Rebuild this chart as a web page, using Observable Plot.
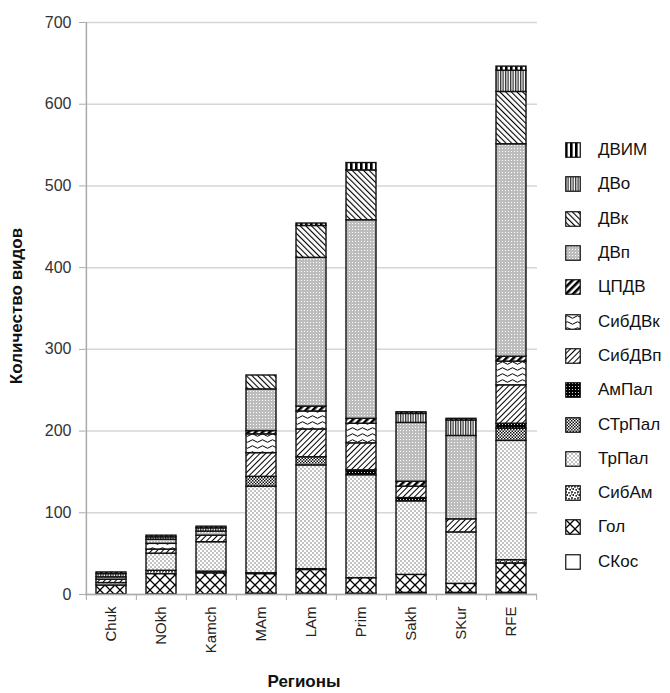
<!DOCTYPE html>
<html><head><meta charset="utf-8">
<script src="https://cdn.jsdelivr.net/npm/d3@7"></script>
<script src="https://cdn.jsdelivr.net/npm/@observablehq/plot@0.6"></script>
<style>
body{margin:0;background:#fff;font-family:"Liberation Sans",Arial,sans-serif;}
#wrap{position:relative;width:670px;height:693px;overflow:hidden;}
#ytitle{position:absolute;left:17px;top:306px;transform:translate(-50%,-50%) rotate(-90deg);font-weight:bold;font-size:17px;white-space:nowrap;color:#111;}
#xtitle{position:absolute;left:304px;top:682px;transform:translate(-50%,-50%);font-weight:bold;font-size:17px;color:#111;}
#legend{position:absolute;left:565px;top:133px;}
.lg{display:flex;align-items:center;height:34.3px;font-size:17px;color:#111;white-space:nowrap;}
.lg svg{margin-right:17px;flex:none;}
</style></head><body>
<svg width="0" height="0" style="position:absolute">
<defs>
<pattern id="p0" width="4" height="4" patternUnits="userSpaceOnUse"><rect width="4" height="4" fill="#fff"/></pattern>
<pattern id="p1" width="10" height="10" patternUnits="userSpaceOnUse"><rect width="10" height="10" fill="#fff"/><path d="M-1 -1L11 11M11 -1L-1 11" stroke="#000" stroke-width="1.3"/></pattern>
<pattern id="p2" width="6" height="6" patternUnits="userSpaceOnUse"><rect width="6" height="6" fill="#fff"/><circle cx="1" cy="1" r="0.9" fill="#000"/><circle cx="4" cy="1.8" r="0.9" fill="#000"/><circle cx="2.2" cy="4" r="0.9" fill="#000"/><circle cx="5.2" cy="4.8" r="0.9" fill="#000"/><circle cx="0.2" cy="3" r="0.7" fill="#000"/></pattern>
<pattern id="p3" width="4" height="4" patternUnits="userSpaceOnUse"><rect width="4" height="4" fill="#fff"/><circle cx="1" cy="1" r="0.65" fill="#555"/><circle cx="3" cy="3" r="0.65" fill="#555"/></pattern>
<pattern id="p4" width="3" height="3" patternUnits="userSpaceOnUse"><rect width="3" height="3" fill="#fff"/><rect width="1.5" height="1.5" fill="#111"/><rect x="1.5" y="1.5" width="1.5" height="1.5" fill="#111"/></pattern>
<pattern id="p5" width="3" height="3" patternUnits="userSpaceOnUse"><rect width="3" height="3" fill="#000"/><circle cx="1.5" cy="1.5" r="0.6" fill="#fff"/></pattern>
<pattern id="p6" width="4" height="4" patternUnits="userSpaceOnUse" patternTransform="rotate(45)"><rect width="4" height="4" fill="#fff"/><rect width="1" height="4" fill="#000"/></pattern>
<pattern id="p7" width="10" height="6" patternUnits="userSpaceOnUse"><rect width="10" height="6" fill="#fff"/><path d="M0 3 Q2.5 0.5 5 3 T10 3" stroke="#000" stroke-width="1" fill="none"/></pattern>
<pattern id="p8" width="5" height="5" patternUnits="userSpaceOnUse" patternTransform="rotate(45)"><rect width="5" height="5" fill="#fff"/><rect width="2.6" height="5" fill="#000"/></pattern>
<pattern id="p9" width="3" height="3" patternUnits="userSpaceOnUse"><rect width="3" height="3" fill="#bdbdbd"/><rect x="1" y="1" width="1" height="1" fill="#fff"/></pattern>
<pattern id="p10" width="4" height="4" patternUnits="userSpaceOnUse" patternTransform="rotate(-45)"><rect width="4" height="4" fill="#fff"/><rect width="1.1" height="4" fill="#000"/></pattern>
<pattern id="p11" width="2.5" height="2.5" patternUnits="userSpaceOnUse"><rect width="2.5" height="2.5" fill="#fff"/><rect width="1.3" height="2.5" fill="#333"/></pattern>
<pattern id="p12" width="5" height="5" patternUnits="userSpaceOnUse"><rect width="5" height="5" fill="#fff"/><rect width="2.6" height="5" fill="#000"/></pattern>
</defs>
</svg>
<div id="wrap">
  <div id="ytitle">Количество видов</div>
  <div id="xtitle">Регионы</div>
  <div id="legend"></div>
</div>
<script>
// Categories (x axis)
const regions = ["Chuk","NOkh","Kamch","MAm","LAm","Prim","Sakh","SKur","RFE"];
// Stack groups, bottom to top
const groups = ["СКос","Гол","СибАм","ТрПал","СТрПал","АмПал","СибДВп","СибДВк","ЦПДВ","ДВп","ДВк","ДВо","ДВИМ"];
// Series values, one value per region (in region order)
const sKos   = [0, 0, 0, 1, 1, 1, 2, 2, 2];
const gol    = [11, 25, 26, 24, 29, 19, 22, 11, 36];
const sibAm  = [0, 4, 2, 1, 1, 0, 0, 0, 4];
const trPal  = [3, 21, 36, 106, 127, 126, 90, 63, 146];
const sTrPal = [0, 0, 0, 12, 10, 0, 0, 0, 15];
const amPal  = [0, 0, 0, 0, 0, 6, 4, 0, 6];
const sibDVp = [4, 5, 8, 29, 34, 33, 14, 16, 47];
const sibDVk = [0, 7, 0, 23, 22, 24, 0, 0, 29];
const cPDV   = [0, 0, 0, 4, 6, 6, 6, 0, 6];
const dVp    = [3, 5, 5, 51, 182, 243, 72, 102, 260];
const dVk    = [0, 0, 0, 17, 39, 61, 0, 0, 64];
const dVo    = [4, 3, 4, 0, 0, 0, 11, 19, 26];
const dVIM   = [2, 2, 2, 0, 3, 9, 2, 2, 5];
// Y axis tick values
const yTicks = [0, 100, 200, 300, 400, 500, 600, 700];

const series = [sKos, gol, sibAm, trPal, sTrPal, amPal, sibDVp, sibDVk, cPDV, dVp, dVk, dVo, dVIM];
const fills = groups.map((g, j) => `url(#p${j})`);

const rows = regions.flatMap((r, i) => groups.map((g, j) => ({region: r, group: g, value: series[j][i]})))
  .filter(d => d.value > 0);

const W = 670, H = 693, mL = 85, mR = 133, mT = 22, mB = 99;
const step = (W - mL - mR) / regions.length;

const chart = Plot.plot({
  width: W, height: H,
  marginLeft: mL, marginRight: mR, marginTop: mT, marginBottom: mB,
  style: {fontFamily: "'Liberation Sans', Arial, sans-serif", fontSize: "16px", color: "#222", background: "transparent"},
  x: {domain: regions, paddingInner: 0.4, paddingOuter: 0.2, label: null},
  y: {domain: [0, 700], label: null},
  color: {domain: groups, range: fills},
  marks: [
    Plot.gridY(yTicks, {stroke: "#d6d6d6", strokeOpacity: 1, strokeWidth: 1.5}),
    Plot.ruleX([regions[0]], {dx: -step / 2, y1: 0, y2: 700, stroke: "#aaa", strokeWidth: 1.5}),
    Plot.axisY(yTicks, {tickSize: 6, tickPadding: 8, stroke: "#aaa", fill: "#333", label: null, fontSize: 16}),
    Plot.barY(rows, {x: "region", y: "value", fill: "group", stroke: "#111", strokeWidth: 1.4, order: groups}),
    Plot.ruleY([0], {stroke: "#aaa", strokeWidth: 1.5}),
    Plot.axisX({tickSize: 6, tickFormat: () => "", dx: -step / 2, stroke: "#aaa", label: null}),
    Plot.axisX([regions[regions.length - 1]], {tickSize: 6, tickFormat: () => "", dx: step / 2, stroke: "#aaa", label: null}),
    Plot.axisX({tickSize: 0, tickRotate: -90, tickPadding: 12, fill: "#222", label: null, fontSize: 15})
  ]
});
const wrap = document.getElementById("wrap");
chart.style.position = "absolute";
chart.style.left = "0";
chart.style.top = "0";
wrap.insertBefore(chart, wrap.firstChild);

const legend = document.getElementById("legend");
for (let j = groups.length - 1; j >= 0; j--) {
  const row = document.createElement("div");
  row.className = "lg";
  row.innerHTML = `<svg width="16" height="16"><rect x="0.75" y="0.75" width="14.5" height="14.5" fill="${fills[j]}" stroke="#111" stroke-width="1.2"/></svg><span>${groups[j]}</span>`;
  legend.appendChild(row);
}
</script>
</body></html>
